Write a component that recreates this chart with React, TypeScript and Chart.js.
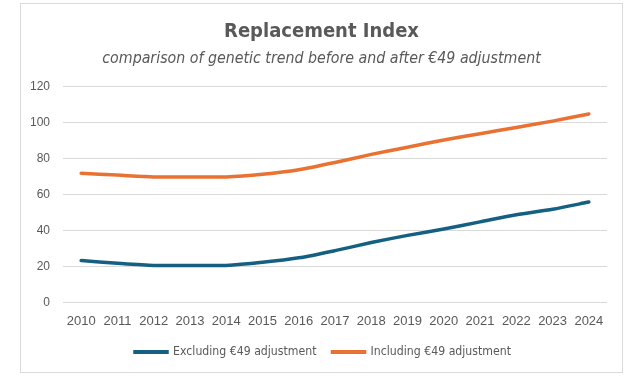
import React, { useEffect, useRef } from "react";
import { Chart, registerables } from "chart.js";

Chart.register(...registerables);

const years = ["2010","2011","2012","2013","2014","2015","2016","2017","2018","2019","2020","2021","2022","2023","2024"];
const excluding = [23.5, 22, 20.8, 20.8, 20.8, 22.5, 25, 29, 33.5, 37.5, 41, 45, 49, 52, 56];
const including = [72, 71, 70, 70, 70, 71.5, 74, 78, 82.5, 86.5, 90.5, 94, 97.5, 101, 105];
const yTicks = [0, 20, 40, 60, 80, 100, 120];

const narrow = "'Liberation Sans Narrow', 'DejaVu Sans Condensed', 'Liberation Sans', sans-serif";
const tickFont = "'Liberation Sans', Arial, sans-serif";

const centerShift = {
  id: "centerShift",
  afterLayout(chart: any) {
    chart.boxes.forEach((b: any) => {
      if (b.axis) return;
      if (b.position !== "top" && b.position !== "bottom") return;
      const d = b === chart.legend ? 11 : 9.5;
      b.left += d;
      b.right += d;
    });
  },
};

export default function App() {
  const ref = useRef<HTMLCanvasElement | null>(null);
  useEffect(() => {
    if (!ref.current) return;
    const chart = new Chart(ref.current, {
      type: "line",
      data: {
        labels: years,
        datasets: [
          { label: "Excluding €49 adjustment", data: excluding, borderColor: "#156082", backgroundColor: "#156082", borderWidth: 3.5, pointRadius: 0, tension: 0.25, borderCapStyle: "round" },
          { label: "Including €49 adjustment", data: including, borderColor: "#E97132", backgroundColor: "#E97132", borderWidth: 3.5, pointRadius: 0, tension: 0.25, borderCapStyle: "round" },
        ],
      },
      options: {
        responsive: true,
        maintainAspectRatio: false,
        animation: false,
        layout: { padding: { left: 0, right: 19, top: 0, bottom: 0 } },
        plugins: {
          title: { display: true, text: "Replacement Index", color: "#595959", font: { family: narrow, size: 20, weight: "bold" }, padding: { top: 17, bottom: 5 } },
          subtitle: { display: true, text: "comparison of genetic trend before and after €49 adjustment", color: "#595959", font: { family: narrow, size: 15.8, style: "italic" }, padding: { top: 0, bottom: 19 } },
          legend: {
            position: "bottom",
            labels: { color: "#595959", font: { family: narrow, size: 12.2 }, boxWidth: 32, boxHeight: 0.5, padding: 16 },
          },
          tooltip: { enabled: false },
        },
        scales: {
          x: {
            offset: true,
            grid: { display: false, drawTicks: false },
            border: { display: false },
            ticks: { color: "#595959", font: { family: tickFont, size: 13 }, padding: 11, maxRotation: 0, autoSkip: false },
            afterFit: (s: any) => { s.height = 27; },
          },
          y: {
            min: 0,
            max: 120,
            afterBuildTicks: (axis: any) => { axis.ticks = yTicks.map((v) => ({ value: v })); },
            grid: { color: "#d9d9d9", lineWidth: 1, drawTicks: false },
            border: { display: false },
            ticks: { color: "#595959", font: { family: tickFont, size: 12 }, padding: 13 },
          },
        },
      },
      plugins: [centerShift],
    });
    return () => chart.destroy();
  }, []);
  return (
    <div>
      <div style={{ position: "absolute", left: 20, top: 3, width: 601, height: 368, border: "1px solid #d9d9d9", background: "#fff" }} />
      <div style={{ position: "absolute", left: 17, top: 3, width: 609, height: 365 }}>
        <canvas ref={ref} />
      </div>
    </div>
  );
}
